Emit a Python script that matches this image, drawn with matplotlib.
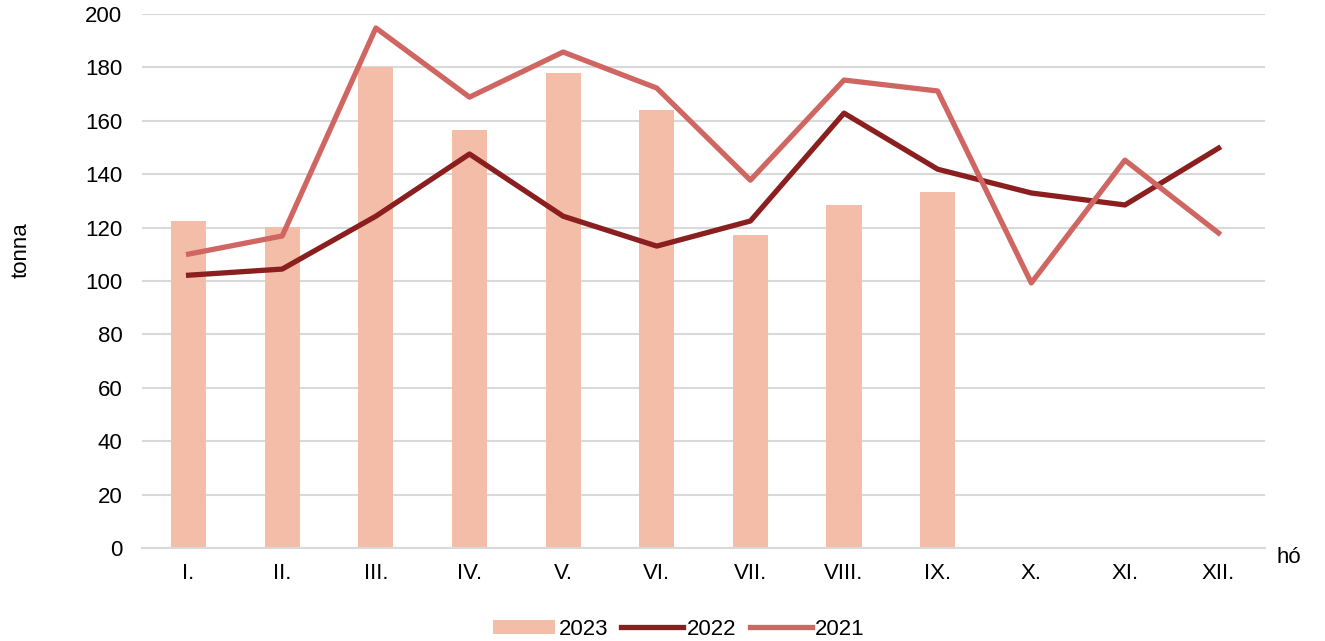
import numpy as np
import matplotlib.pyplot as plt

plt.rcParams['font.family'] = ['Liberation Sans', 'DejaVu Sans']

honapok = ["I.", "II.", "III.", "IV.", "V.", "VI.", "VII.", "VIII.", "IX.", "X.", "XI.", "XII."]
ev2023 = [122.5, 120.2, 180.1, 156.5, 177.9, 164.0, 117.2, 128.5, 133.3]
ev2022 = [102.2, 104.5, 124.3, 147.6, 124.3, 113.1, 122.5, 162.9, 141.9, 133.0, 128.5, 149.8]
ev2021 = [110.1, 116.9, 194.8, 168.9, 185.8, 172.3, 137.8, 175.3, 171.2, 99.3, 145.3, 118.0]

fig = plt.figure(figsize=(13.25, 6.41), dpi=100)
ax = fig.add_axes([0.107, 0.145, 0.848, 0.833])

x = np.arange(len(honapok))
b = ax.bar(x[:len(ev2023)], ev2023, width=0.375, color="#F4BDA8", label="2023", zorder=2)
l1, = ax.plot(x, ev2022, color="#8B1F1F", lw=3.8, label="2022", zorder=3)
l2, = ax.plot(x, ev2021, color="#D06662", lw=3.8, label="2021", zorder=3)

ax.set_xlim(-0.5, 11.5)
ax.set_ylim(0, 200)
ax.set_yticks(np.arange(0, 201, 20))
ax.set_xticks(x)
ax.set_xticklabels(honapok)
ax.tick_params(axis="both", length=0, labelsize=16, colors="black")
ax.tick_params(axis="x", pad=11)
ax.tick_params(axis="y", pad=14)
ax.yaxis.grid(True, color="#D9D9D9", lw=1.5, zorder=0)
for s in ["top", "right", "left"]:
    ax.spines[s].set_visible(False)
ax.spines["bottom"].set_color("#D9D9D9")
ax.spines["bottom"].set_linewidth(1.5)

fig.text(0.016, 0.61, "tonna", fontsize=16, rotation=90, ha="center", va="center")
fig.text(0.973, 0.131, "hó", fontsize=16, ha="center", va="center")

ax.legend([b, l1, l2], ["2023", "2022", "2021"], loc="upper center",
          bbox_to_anchor=(0.478, -0.095), ncol=3, frameon=False,
          fontsize=16, handlelength=2.8, handleheight=0.6, handletextpad=0.15, columnspacing=0.6)

fig.savefig("out.png", dpi=100)
